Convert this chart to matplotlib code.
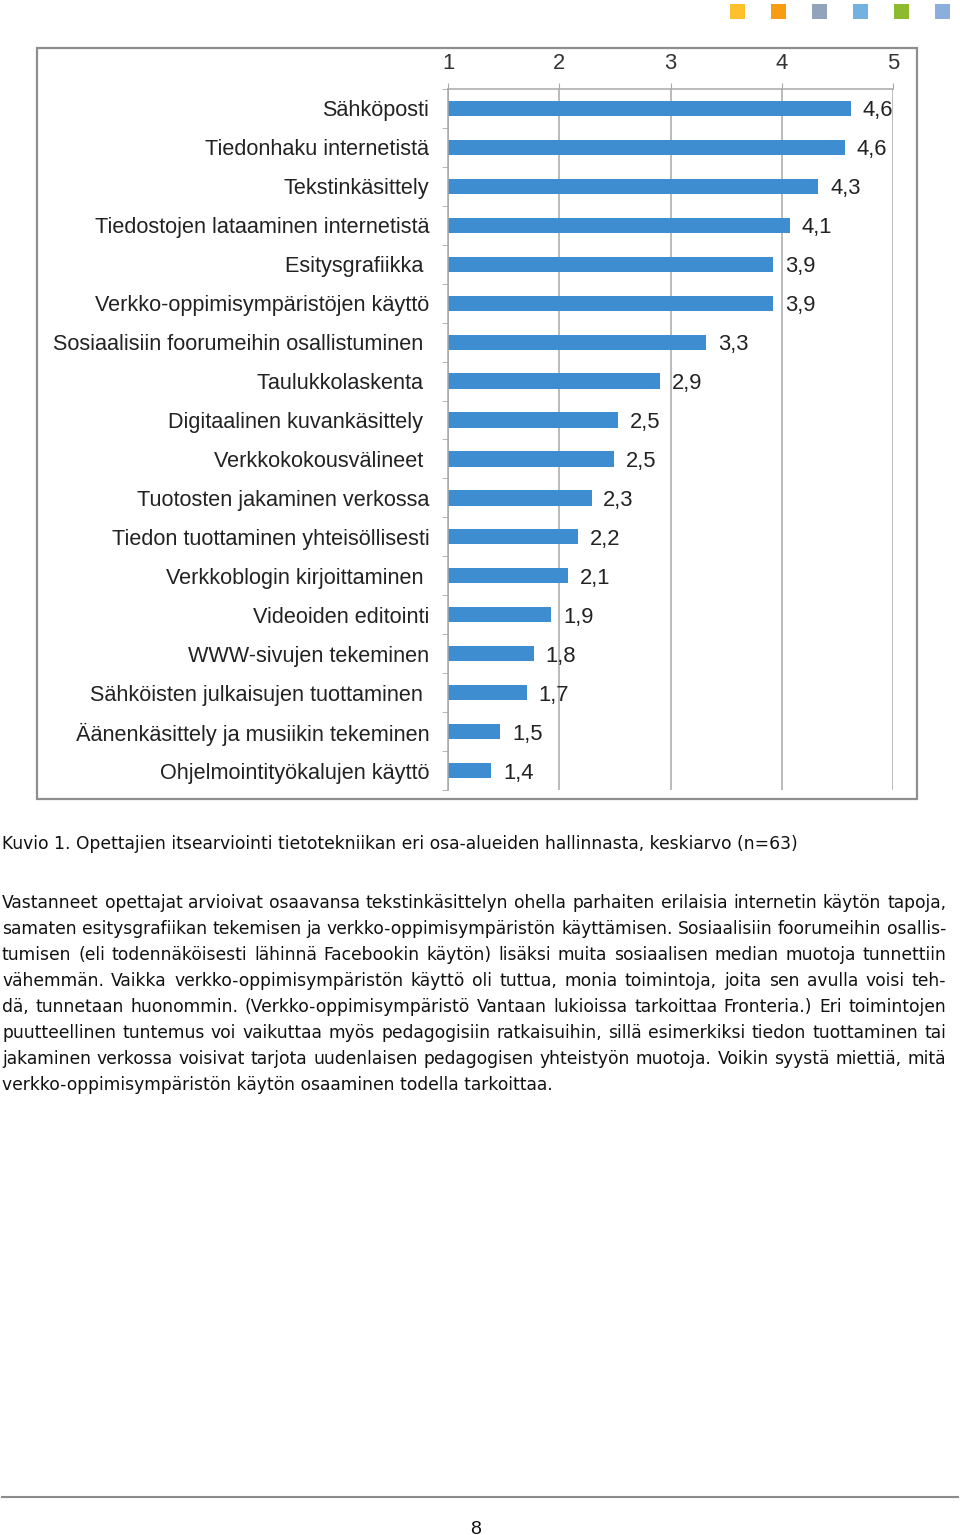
import matplotlib
matplotlib.use("Agg")
import matplotlib.pyplot as plt
from matplotlib.patches import Rectangle
from matplotlib.font_manager import FontProperties
import numpy as np

# chart data (mean self-assessment, scale 1..5)
categories = [
	"Sähköposti", "Tiedonhaku internetistä", "Tekstinkäsittely",
	"Tiedostojen lataaminen internetistä", "Esitysgrafiikka ",
	"Verkko-oppimisympäristöjen käyttö",
	"Sosiaalisiin foorumeihin osallistuminen ", "Taulukkolaskenta ",
	"Digitaalinen kuvankäsittely ", "Verkkokokousvälineet ",
	"Tuotosten jakaminen verkossa", "Tiedon tuottaminen yhteisöllisesti",
	"Verkkoblogin kirjoittaminen ", "Videoiden editointi",
	"WWW-sivujen tekeminen", "Sähköisten julkaisujen tuottaminen ",
	"Äänenkäsittely ja musiikin tekeminen", "Ohjelmointityökalujen käyttö",
]
values = [4.62, 4.57, 4.33, 4.07, 3.92, 3.92, 3.32, 2.91, 2.53, 2.49,
	2.29, 2.17, 2.08, 1.93, 1.77, 1.71, 1.47, 1.39]
value_labels = ["4,6", "4,6", "4,3", "4,1", "3,9", "3,9", "3,3", "2,9", "2,5",
	"2,5", "2,3", "2,2", "2,1", "1,9", "1,8", "1,7", "1,5", "1,4"]
x_ticks = [1, 2, 3, 4, 5]

header_colors = ["#FDC12B", "#F89C12", "#91A4BC", "#72B1E0", "#8EBA2D", "#8BAEDC"]

caption = ("Kuvio 1. Opettajien itsearviointi tietotekniikan eri osa-alueiden "
	"hallinnasta, keskiarvo (n=63)")
paragraph = [
	"Vastanneet opettajat arvioivat osaavansa tekstinkäsittelyn ohella parhaiten erilaisia internetin käytön tapoja,",
	"samaten esitysgrafiikan tekemisen ja verkko-oppimisympäristön käyttämisen. Sosiaalisiin foorumeihin osallis-",
	"tumisen (eli todennäköisesti lähinnä Facebookin käytön) lisäksi muita sosiaalisen median muotoja tunnettiin",
	"vähemmän. Vaikka verkko-oppimisympäristön käyttö oli tuttua, monia toimintoja, joita sen avulla voisi teh-",
	"dä, tunnetaan huonommin. (Verkko-oppimisympäristö Vantaan lukioissa tarkoittaa Fronteria.) Eri toimintojen",
	"puutteellinen tuntemus voi vaikuttaa myös pedagogisiin ratkaisuihin, sillä esimerkiksi tiedon tuottaminen tai",
	"jakaminen verkossa voisivat tarjota uudenlaisen pedagogisen yhteistyön muotoja. Voikin syystä miettiä, mitä",
	"verkko-oppimisympäristön käytön osaaminen todella tarkoittaa.",
]
page_number = "8"

W, H = 960, 1535
fig = plt.figure(figsize=(W/100, H/100), dpi=100)

def px(x, y):
	"""pixel position (from top left) to figure fraction"""
	return x/W, 1 - y/H

# --- page decorations ---
for i, c in enumerate(header_colors):
	x0, y0 = px(730 + 41*i, 19)
	fig.patches.append(Rectangle((x0, y0), 15/W, 15/H, transform=fig.transFigure,
		facecolor=c, edgecolor="none"))

x0, y0 = px(37, 799)
fig.patches.append(Rectangle((x0, y0), 880/W, 751/H, transform=fig.transFigure,
	fill=False, edgecolor="#8E8E8E", linewidth=1.6))

# --- bar chart ---
chart_font = "Liberation Sans"
grid_gray = "#A8A8A8"
l, b = px(448, 790)
ax = fig.add_axes([l, b, 445/W, 701/H])
y = np.arange(len(categories))
bars = ax.barh(y, values, height=0.39, color="#3D8DD0")
for t in ax.bar_label(bars, labels=value_labels, padding=8.5, fontsize=15.8,
		family=chart_font, color="#222222"):
	t.set_va("center_baseline")

ax.set_xlim(1, 5)
ax.set_ylim(len(categories) - 0.5, -0.5)
ax.xaxis.tick_top()
ax.set_xticks(x_ticks)
ax.set_xticklabels([str(t) for t in x_ticks], fontsize=15.8, family=chart_font,
	color="#333333")
ax.tick_params(axis="x", length=4, color=grid_gray, pad=6.5)
ax.set_yticks(y)
ax.set_yticklabels(categories, fontsize=15.6, family=chart_font, color="#222222")
ax.set_yticks(np.arange(-0.5, len(categories)), minor=True)
ax.tick_params(axis="y", which="major", length=0, pad=13.5)
ax.tick_params(axis="y", which="minor", length=4, color=grid_gray)
ax.grid(axis="x", color=grid_gray, linewidth=1.1)
ax.set_axisbelow(True)
for side in ("right", "bottom"):
	ax.spines[side].set_visible(False)
for side in ("top", "left"):
	ax.spines[side].set_color(grid_gray)
	ax.spines[side].set_linewidth(1.1)

# --- caption and justified body text ---
body_font = FontProperties(family="DejaVu Sans", size=12.35)
fig.text(*px(2, 849), caption, fontproperties=body_font, va="baseline",
	color="#111111")

renderer = fig.canvas.get_renderer()
left_px, right_px = 2, 946
for k, line in enumerate(paragraph):
	base = 908 + 26*k
	words = line.split(" ")
	if k == len(paragraph) - 1:
		fig.text(*px(left_px, base), line, fontproperties=body_font,
			va="baseline", color="#111111")
		continue
	widths = [renderer.get_text_width_height_descent(w, body_font, ismath=False)[0]
		for w in words]
	gap = (right_px - left_px - sum(widths)) / (len(words) - 1)
	x = left_px
	for w, wd in zip(words, widths):
		fig.text(*px(x, base), w, fontproperties=body_font, va="baseline",
			color="#111111")
		x += wd + gap

# --- footer ---
fig.add_artist(plt.Line2D([2/W, 958/W], [1 - 1497/H]*2, color="#8A8A8A",
	linewidth=1.5))
fig.text(*px(476, 1534), page_number, fontsize=14, family="Liberation Sans",
	ha="center", va="baseline", color="#111111")

fig.savefig("out.png", dpi=100)
